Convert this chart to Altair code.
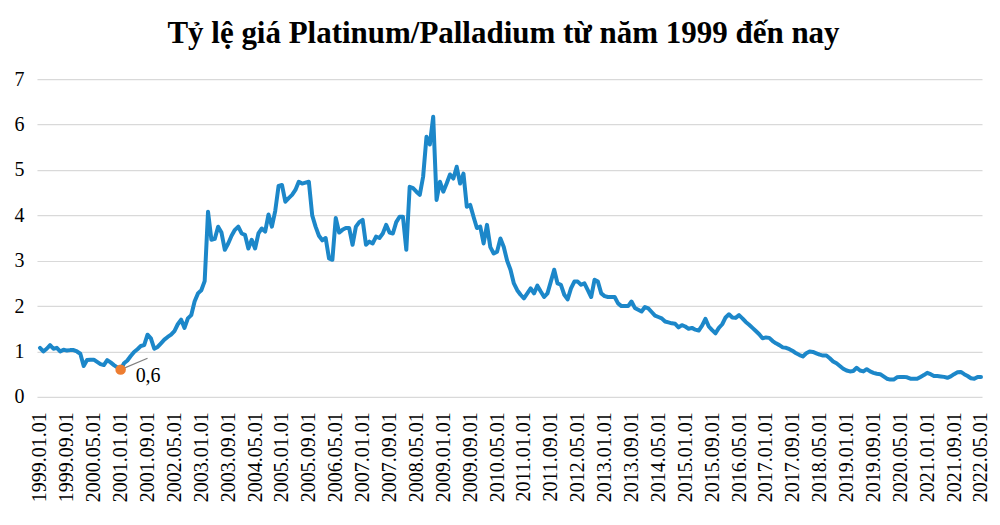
import altair as alt
import pandas as pd

# Monthly Platinum/Palladium price ratio, 1999.01 .. 2022.05
y1999 = [1.08, 1.00, 1.06, 1.14, 1.06, 1.08, 1.00, 1.04, 1.02, 1.03, 1.03, 1.00]
y2000 = [0.95, 0.68, 0.81, 0.82, 0.82, 0.77, 0.72, 0.70, 0.81, 0.76, 0.70, 0.65]
y2001 = [0.60, 0.74, 0.80, 0.90, 0.99, 1.05, 1.12, 1.14, 1.37, 1.29, 1.06, 1.10]
y2002 = [1.18, 1.26, 1.32, 1.37, 1.45, 1.60, 1.70, 1.52, 1.73, 1.80, 2.10, 2.28]
y2003 = [2.35, 2.55, 4.08, 3.46, 3.48, 3.75, 3.62, 3.24, 3.38, 3.55, 3.68, 3.75]
y2004 = [3.60, 3.57, 3.27, 3.46, 3.27, 3.60, 3.71, 3.64, 4.02, 3.75, 4.10, 4.65]
y2005 = [4.67, 4.30, 4.38, 4.45, 4.56, 4.74, 4.70, 4.72, 4.74, 4.00, 3.75, 3.55]
y2006 = [3.45, 3.50, 3.05, 3.02, 3.94, 3.62, 3.68, 3.72, 3.72, 3.35, 3.75, 3.85]
y2007 = [3.90, 3.35, 3.42, 3.38, 3.53, 3.50, 3.60, 3.79, 3.62, 3.60, 3.85, 3.97]
y2008 = [3.97, 3.24, 4.63, 4.60, 4.52, 4.45, 4.85, 5.73, 5.56, 6.17, 4.34, 4.74]
y2009 = [4.52, 4.70, 4.90, 4.81, 5.07, 4.70, 4.92, 4.19, 4.23, 3.97, 3.72, 3.75]
y2010 = [3.38, 3.79, 3.30, 3.16, 3.20, 3.49, 3.30, 3.00, 2.80, 2.50, 2.35, 2.25]
y2011 = [2.17, 2.28, 2.39, 2.28, 2.45, 2.32, 2.20, 2.28, 2.54, 2.80, 2.50, 2.47]
y2012 = [2.25, 2.15, 2.39, 2.54, 2.54, 2.47, 2.50, 2.35, 2.20, 2.58, 2.54, 2.28]
y2013 = [2.22, 2.20, 2.20, 2.20, 2.06, 2.00, 2.00, 2.00, 2.10, 1.96, 1.92, 1.88]
y2014 = [1.98, 1.95, 1.87, 1.79, 1.76, 1.73, 1.66, 1.64, 1.62, 1.61, 1.53, 1.58]
y2015 = [1.55, 1.50, 1.52, 1.48, 1.46, 1.57, 1.72, 1.55, 1.47, 1.40, 1.52, 1.60]
y2016 = [1.75, 1.82, 1.75, 1.74, 1.80, 1.73, 1.65, 1.59, 1.52, 1.45, 1.38, 1.29]
y2017 = [1.31, 1.30, 1.23, 1.18, 1.14, 1.09, 1.08, 1.05, 1.01, 0.96, 0.92, 0.89]
y2018 = [0.96, 1.00, 0.99, 0.96, 0.93, 0.91, 0.91, 0.85, 0.78, 0.74, 0.68, 0.62]
y2019 = [0.58, 0.56, 0.57, 0.64, 0.58, 0.56, 0.61, 0.56, 0.53, 0.51, 0.50, 0.45]
y2020 = [0.40, 0.38, 0.38, 0.43, 0.44, 0.44, 0.43, 0.40, 0.40, 0.40, 0.44, 0.48]
y2021 = [0.53, 0.50, 0.46, 0.46, 0.45, 0.44, 0.42, 0.45, 0.50, 0.54, 0.55, 0.50]
y2022 = [0.46, 0.41, 0.40, 0.44, 0.44]

x_labels = [
    "1999.01.01", "1999.09.01", "2000.05.01", "2001.01.01", "2001.09.01", "2002.05.01",
    "2003.01.01", "2003.09.01", "2004.05.01", "2005.01.01", "2005.09.01", "2006.05.01",
    "2007.01.01", "2007.09.01", "2008.05.01", "2009.01.01", "2009.09.01", "2010.05.01",
    "2011.01.01", "2011.09.01", "2012.05.01", "2013.01.01", "2013.09.01", "2014.05.01",
    "2015.01.01", "2015.09.01", "2016.05.01", "2017.01.01", "2017.09.01", "2018.05.01",
    "2019.01.01", "2019.09.01", "2020.05.01", "2021.01.01", "2021.09.01", "2022.05.01",
]
y_ticks = [0, 1, 2, 3, 4, 5, 6, 7]

min_index = 24          # 2001.01
min_label = "0,6"

values = (y1999 + y2000 + y2001 + y2002 + y2003 + y2004 + y2005 + y2006 + y2007
          + y2008 + y2009 + y2010 + y2011 + y2012 + y2013 + y2014 + y2015 + y2016
          + y2017 + y2018 + y2019 + y2020 + y2021 + y2022)

df = pd.DataFrame({"idx": list(range(len(values))), "val": values})
ann = pd.DataFrame({"idx": [min_index], "val": [values[min_index]], "label": [min_label]})

FONT = "Liberation Serif"
label_arr = "[" + ",".join("'%s'" % s for s in x_labels) + "]"

x_axis = alt.Axis(
    values=list(range(0, len(values), 8)),
    labelExpr=label_arr + "[round(datum.value / 8)]",
    labelAngle=-90, labelFlush=False, labelOverlap=False,
    grid=False, domain=False, ticks=False,
    labelFont=FONT, labelFontSize=20, labelColor="#000000", labelPadding=15,
    title=None,
)
y_axis = alt.Axis(
    values=y_ticks, format="d", grid=True, gridColor="#D9D9D9", gridWidth=1.2,
    domain=False, ticks=False,
    labelFont=FONT, labelFontSize=20, labelColor="#000000", labelPadding=13,
    labelOverlap=False, title=None,
)
x_scale = alt.Scale(domain=[-0.9, 280.3], nice=False, zero=False)
y_scale = alt.Scale(domain=[0, 7], nice=False)

x_enc = alt.X("idx:Q", scale=x_scale, axis=x_axis)
y_enc = alt.Y("val:Q", scale=y_scale, axis=y_axis)

line = alt.Chart(df).mark_line(
    color="#1C87C9", strokeWidth=4, strokeJoin="round", strokeCap="round"
).encode(x=x_enc, y=y_enc)

leader = alt.Chart(ann).transform_calculate(
    x2="datum.idx + 8", y2="datum.val + 0.25"
).mark_rule(color="#7F7F7F", strokeWidth=1.2).encode(
    x=x_enc, y=y_enc, x2="x2:Q", y2="y2:Q"
)

dot = alt.Chart(ann).mark_circle(color="#ED7D31", size=110, opacity=1).encode(
    x=x_enc, y=y_enc
)

txt = alt.Chart(ann).mark_text(
    align="left", baseline="alphabetic", dx=15, dy=12,
    font=FONT, fontSize=20, color="#000000"
).encode(x=x_enc, y=y_enc, text="label:N")

chart = alt.layer(line, leader, dot, txt).properties(
    width=946,
    height=318,
    padding={"left": 29, "top": 71, "right": 10, "bottom": 110},
    autosize=alt.AutoSizeParams(type="none"),
    title=alt.TitleParams(
        text="Tỷ lệ giá Platinum/Palladium từ năm 1999 đến nay",
        font=FONT, fontSize=31, fontWeight="bold", color="#000000",
        anchor="middle", offset=19, dx=-6,
    ),
).configure_view(stroke=None)

chart.save("out.html", embed_options={"renderer": "svg", "actions": False})
